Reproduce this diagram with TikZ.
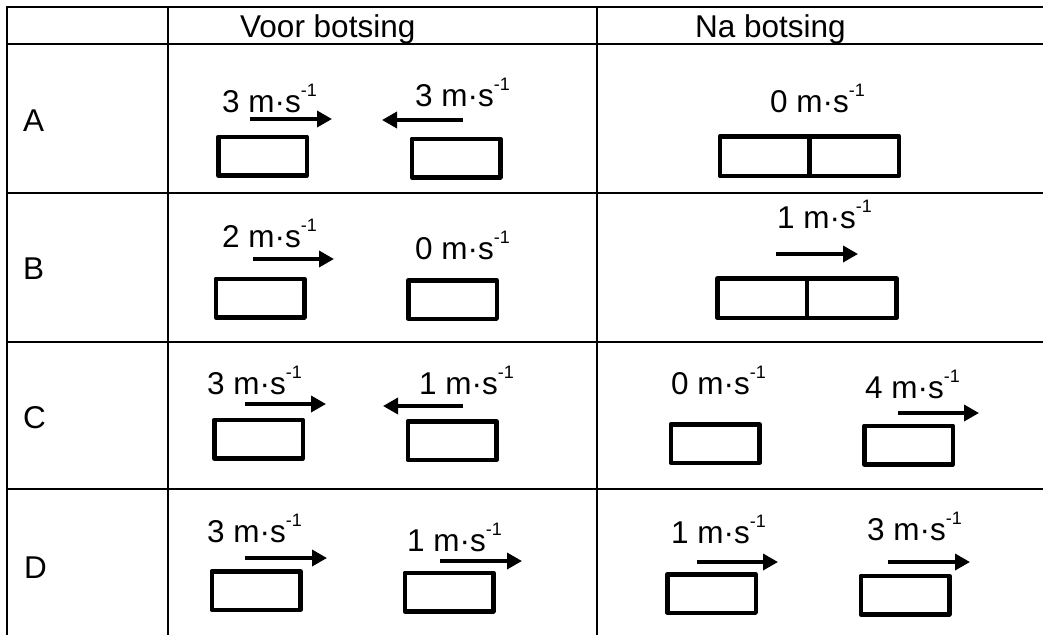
\documentclass[tikz,border=0pt]{standalone}
\usepackage{fontspec}
\setmainfont{Liberation Sans}
\usetikzlibrary{arrows.meta}
\newcommand\spd[1]{#1 m·s\raisebox{16pt}{\fontsize{18}{18}\selectfont -1}}
\begin{document}
\begin{tikzpicture}[x=1pt,y=-1pt,font=\fontsize{31.5}{36}\selectfont,
  gridline/.style={line width=2.2pt},
  blk/.style={draw,line width=4.5pt,line join=round,minimum width=88.5pt,minimum height=38.5pt,inner sep=0pt},
  half/.style={blk,minimum width=89.5pt,minimum height=39.5pt},
  vel/.style={line width=3.5pt,-{Triangle[length=15pt,width=16pt]}},
  lbl/.style={anchor=base west,inner sep=0pt}]
\useasboundingbox (0,0) rectangle (1043,635);
% table grid
\coordinate (v0t) at (7,6);   \coordinate (v0b) at (7,635);
\coordinate (v1t) at (168,6); \coordinate (v1b) at (168,635);
\coordinate (v2t) at (597,6); \coordinate (v2b) at (597,635);
\draw[gridline] (v0t) -- (v0b);
\draw[gridline] (v1t) -- (v1b);
\draw[gridline] (v2t) -- (v2b);
\foreach \yy [count=\i] in {7,44,193,342,489}{
  \coordinate (h\i l) at (6,\yy); \coordinate (h\i r) at (1043,\yy);
  \draw[gridline] (h\i l) -- (h\i r);
}
% headers
\node[lbl] (hvoor) at (240,37) {Voor botsing};
\node[lbl] (hna) at (695,37) {Na botsing};
% row labels
\node[lbl] (rA) at (23,131) {A};
\node[lbl] (rB) at (23,279) {B};
\node[lbl] (rC) at (23,428) {C};
\node[lbl] (rD) at (24,578) {D};
% ---------- Row A ----------
\node[blk] (A1) at (262.5,156) {};
\node[blk] (A2) at (456,158) {};
\node[lbl] (tA1) at (222,112) {\spd{3}};
\node[lbl] (tA2) at (415,106) {\spd{3}};
\coordinate (aA1s) at (250,119); \coordinate (aA1e) at (332,119);
\coordinate (aA2s) at (463,120); \coordinate (aA2e) at (382,120);
\draw[vel] (aA1s) -- (aA1e);
\draw[vel] (aA2s) -- (aA2e);
\node[half] (An1) at (764.75,156) {};
\node[half] (An2) at (854.25,156) {};
\node[lbl] (tAn) at (770,112) {\spd{0}};
% ---------- Row B ----------
\node[blk] (B1) at (260,298) {};
\node[blk] (B2) at (452.5,299.5) {};
\node[lbl] (tB1) at (222,247) {\spd{2}};
\node[lbl] (tB2) at (415,259) {\spd{0}};
\coordinate (aB1s) at (253,259); \coordinate (aB1e) at (334,259);
\draw[vel] (aB1s) -- (aB1e);
\node[half] (Bn1) at (762.25,298) {};
\node[half] (Bn2) at (851.75,298) {};
\node[lbl] (tBn) at (777,228) {\spd{1}};
\coordinate (aBns) at (776,254); \coordinate (aBne) at (858,254);
\draw[vel] (aBns) -- (aBne);
% ---------- Row C ----------
\node[blk] (C1) at (258.5,439) {};
\node[blk] (C2) at (452,440.5) {};
\node[lbl] (tC1) at (207,394) {\spd{3}};
\node[lbl] (tC2) at (419,394) {\spd{1}};
\coordinate (aC1s) at (245,404); \coordinate (aC1e) at (326,404);
\coordinate (aC2s) at (463,406); \coordinate (aC2e) at (383,406);
\draw[vel] (aC1s) -- (aC1e);
\draw[vel] (aC2s) -- (aC2e);
\node[blk] (Cn1) at (715,443.5) {};
\node[blk] (Cn2) at (908.5,445) {};
\node[lbl] (tCn1) at (671,394) {\spd{0}};
\node[lbl] (tCn2) at (865,398) {\spd{4}};
\coordinate (aCn2s) at (898,413); \coordinate (aCn2e) at (979,413);
\draw[vel] (aCn2s) -- (aCn2e);
% ---------- Row D ----------
\node[blk] (D1) at (256,590.5) {};
\node[blk] (D2) at (449,592) {};
\node[lbl] (tD1) at (207,542) {\spd{3}};
\node[lbl] (tD2) at (407,551) {\spd{1}};
\coordinate (aD1s) at (245,558); \coordinate (aD1e) at (327,558);
\coordinate (aD2s) at (440,561); \coordinate (aD2e) at (522,561);
\draw[vel] (aD1s) -- (aD1e);
\draw[vel] (aD2s) -- (aD2e);
\node[blk] (Dn1) at (711.5,593.5) {};
\node[blk] (Dn2) at (905,595) {};
\node[lbl] (tDn1) at (671,543) {\spd{1}};
\node[lbl] (tDn2) at (867,540) {\spd{3}};
\coordinate (aDn1s) at (697,562); \coordinate (aDn1e) at (778,562);
\coordinate (aDn2s) at (888,562); \coordinate (aDn2e) at (970,562);
\draw[vel] (aDn1s) -- (aDn1e);
\draw[vel] (aDn2s) -- (aDn2e);
\end{tikzpicture}
\end{document}
